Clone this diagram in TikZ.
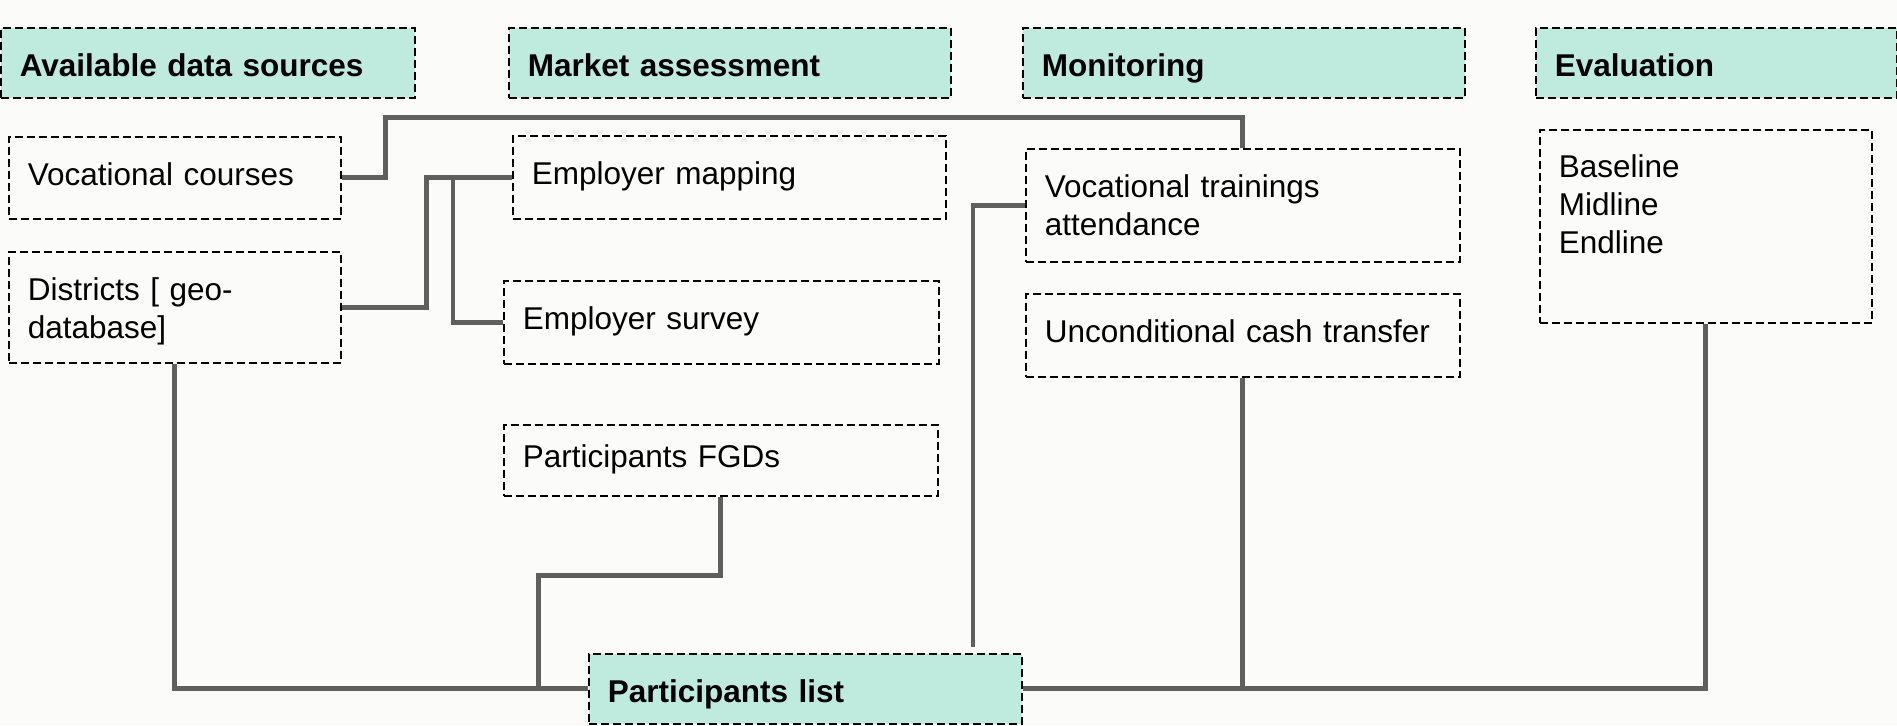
\documentclass[tikz,border=0pt]{standalone}
\usepackage{fontspec}
\setmainfont{Liberation Sans}
\definecolor{headerfill}{RGB}{191,234,222}
\definecolor{linkgray}{RGB}{95,95,95}
\definecolor{pagebg}{RGB}{251,251,250}

\begin{document}
\begin{tikzpicture}[x=0.5pt, y=-0.5pt,
		heading/.style={draw, line width=0.8pt, dash pattern=on 4pt off 2pt, fill=headerfill, font=\fontsize{15.75}{19}\selectfont\bfseries, anchor=north west, align=left, inner xsep=9.5pt, minimum height=35pt, text height=14pt, text depth=0pt},
		itembox/.style={draw, line width=0.8pt, dash pattern=on 4pt off 2pt, font=\fontsize{15.75}{19}\selectfont, anchor=north west, align=left, inner xsep=9.5pt},
		oneline/.style={itembox, text height=11.5pt, text depth=4pt},
		link/.style={draw=linkgray, line width=2.4pt}
		]
		
		\fill[pagebg] (0,0) rectangle (1897,725);
		\useasboundingbox (0,0) rectangle (1897,725);
		
		% column headings
		\node[heading, text width=188pt] (hsrc) at (0,27) {Available data sources};
		\node[heading, text width=202pt] (hmkt) at (508,27) {Market assessment};
		\node[heading, text width=202pt] (hmon) at (1022,27) {Monitoring};
		\node[heading, text width=161.5pt] (heval) at (1535,27) {Evaluation};
		
		\node[oneline, text width=147pt, minimum height=41pt] (voc) at (8,136) {Vocational courses};
		\node[itembox, text width=147pt, minimum height=55.5pt, text depth=18.5pt] (dist) at (8,251) {Districts [ geo-\\database]};
		\node[oneline, text width=197.5pt, minimum height=41.5pt] (empmap) at (512,135) {Employer mapping};
		\node[oneline, text width=198.5pt, minimum height=41.5pt] (empsur) at (503,280) {Employer survey};
		\node[oneline, text width=198pt, minimum height=35.5pt] (fgd) at (503,424) {Participants FGDs};
		\node[itembox, text width=198pt, minimum height=56.5pt] (vta) at (1025,148) {Vocational trainings\\attendance};
		\node[oneline, text width=198pt, minimum height=41.5pt] (uct) at (1025,293) {Unconditional cash transfer};
		\node[itembox, inner ysep=12.5pt] (bme) at (1539,129) {\parbox[t][71.5pt][t]{147pt}{Baseline\\Midline\\Endline}};
		\node[heading, text width=197.5pt] (plist) at (588,653) {Participants list};
		
		% connectors
		\draw[link] (voc.east) -- ++(44,0) -- ++(0,-60) -| (vta.north);
		\draw[link] (dist.east) -- ++(85,0) |- (empmap.west);
		\draw[link] (empsur.west) -- ++(-50,0) |- (empmap.west);
		\draw[link] (dist.south) |- (plist.west);
		\draw[link] (fgd.south) -- ++(0,79) -- ++(-182,0) |- (plist.west);
		\draw[link, shorten >=3pt] (vta.west) -- ++(-52,0) coordinate (vbend) -- (vbend |- plist.north);
		\draw[link] (uct.south) -- (uct.south |- plist.east);
		\draw[link] (plist.east) -| (bme.south);
		
	\end{tikzpicture}
\end{document}
